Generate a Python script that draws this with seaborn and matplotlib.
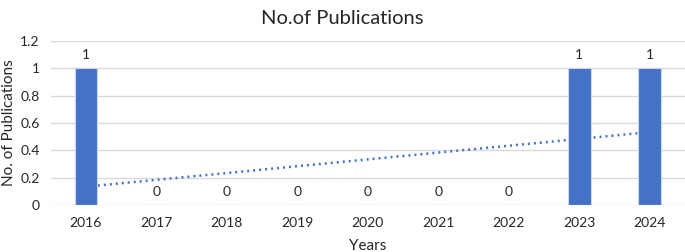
import pandas as pd
import seaborn as sns
import matplotlib.pyplot as plt

years = ["2016", "2017", "2018", "2019", "2020", "2021", "2022", "2023", "2024"]
pubs = [1, 0, 0, 0, 0, 0, 0, 1, 1]

df = pd.DataFrame({"year": years, "pubs": pubs})
df["pos"] = range(len(df))

sns.set_style("white")
plt.rcParams['font.family'] = ['Lato', 'DejaVu Sans']

fig, ax = plt.subplots(figsize=(6.85, 2.52), dpi=100)
fig.subplots_adjust(left=0.074, right=1.0, top=0.837, bottom=0.187)

# trendline (linear, dotted) behind the bars
sns.regplot(data=df, x="pos", y="pubs", scatter=False, ci=None, truncate=True,
            line_kws=dict(color="#4472C4", lw=1.8, ls=(0, (0.8, 1.6)), zorder=1),
            ax=ax)

bars = ax.bar(df["pos"], df["pubs"], width=0.32, color="#4472C4",
              edgecolor="#C9D6EE", linewidth=0.8, zorder=2)
ax.bar_label(bars, labels=[str(v) for v in pubs], padding=5, fontsize=10)

ax.set_xlim(-0.5, len(df) - 0.5)
ax.set_ylim(0, 1.2)
ax.set_yticks([0, 0.2, 0.4, 0.6, 0.8, 1, 1.2])
ax.set_yticklabels(["0", "0.2", "0.4", "0.6", "0.8", "1", "1.2"])
ax.set_xticks(df["pos"])
ax.set_xticklabels(years)
ax.tick_params(axis="both", labelsize=10, length=0, pad=9)
ax.tick_params(axis="y", pad=8)
ax.grid(axis="y", color="#D9D9D9", lw=1, zorder=0)
ax.set_axisbelow(True)
for s in ax.spines.values():
    s.set_visible(False)

fig.text(0.5, 0.925, "No.of Publications", ha="center", va="center", fontsize=14.5)
ax.set_xlabel("Years", fontsize=11, labelpad=7)
ax.set_ylabel("")
fig.text(0.013, 0.512, "No. of Publications", rotation=90, ha="center", va="center",
         fontsize=11)

plt.savefig("out.png", dpi=100)
